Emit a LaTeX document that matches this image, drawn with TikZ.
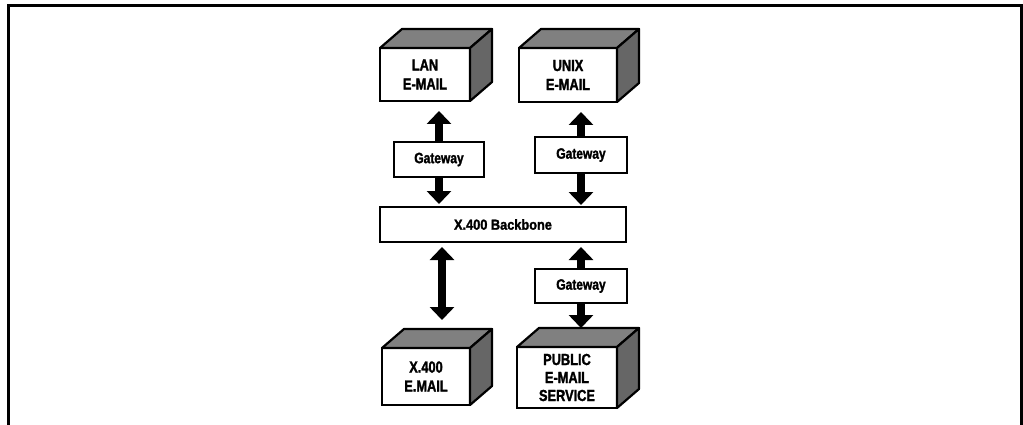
\documentclass[tikz,border=0pt]{standalone}
\usepackage{fontspec}
\usetikzlibrary{arrows.meta,calc}
\newfontfamily\boxfont{Liberation Sans}[FakeStretch=0.8,FakeBold=1.6]
\newfontfamily\widefont{Liberation Sans}[FakeStretch=0.88,FakeBold=1.6]
\tikzset{
  front/.style={draw, line width=2.6pt, fill=white, inner sep=0pt, outer sep=0pt,
    align=center, font=\boxfont\bfseries\fontsize{16}{19}\selectfont},
  topface/.style={draw, line width=2.2pt, line join=round, fill=black!50},
  sideface/.style={draw, line width=2.2pt, line join=round, fill=black!60},
  gate/.style={draw, line width=2pt, fill=white, inner sep=0pt, outer sep=0pt,
    minimum width=90pt, minimum height=35pt, font=\boxfont\bfseries\fontsize{15}{17}\selectfont},
  bone/.style={draw, line width=2pt, fill=white, inner sep=0pt, outer sep=0pt,
    minimum width=246pt, minimum height=35pt, font=\widefont\bfseries\fontsize{14.5}{17}\selectfont},
  blk/.style={line width=8pt, -{Triangle[width=24pt,length=13pt]}},
  blkboth/.style={line width=8pt, {Triangle[width=24pt,length=13pt]}-{Triangle[width=24pt,length=13pt]}},
  frame/.style={line width=3pt}
}
\begin{document}
\begin{tikzpicture}[x=1pt,y=-1pt]
\useasboundingbox (0,0) rectangle (1023,425);
% open frame
\draw[frame] (8,425) -- (8,6) -- (1021,6) -- (1021,425);

% mail systems (front faces)
\node[front, minimum width=90pt, minimum height=53pt] (lan) at (425,74.5) {LAN\\E-MAIL};
\node[front, minimum width=98pt, minimum height=54pt] (unix) at (568,75) {UNIX\\E-MAIL};
\node[front, minimum width=88pt, minimum height=57pt] (xfour) at (426,376.5) {X.400\\E.MAIL};
\node[front, minimum width=100pt, minimum height=61pt,
      font=\boxfont\bfseries\fontsize{16}{18}\selectfont] (pub) at (567,377.5) {PUBLIC\\E-MAIL\\SERVICE};

% top and side faces of the boxes
\foreach \n in {lan,unix,xfour,pub}{
  \filldraw[topface] (\n.north west) -- ($(\n.north west)+(22,-19)$)
    -- ($(\n.north east)+(22,-19)$) -- (\n.north east) -- cycle;
  \filldraw[sideface] (\n.north east) -- ($(\n.north east)+(22,-19)$)
    -- ($(\n.south east)+(22,-19)$) -- (\n.south east) -- cycle;
}

% gateways and backbone
\node[gate] (gw1) at (439,159.5) {Gateway};
\node[gate, minimum width=92pt, minimum height=36pt] (gw2) at (581,155) {Gateway};
\node[gate, minimum width=92pt, minimum height=34pt] (gw3) at (581,286) {Gateway};
\node[bone] (bb) at (503,224.5) {X.400 Backbone};

% connections
\draw[blk, shorten >=10pt] (gw1.north) -- (gw1.north |- lan.south);
\draw[blk, shorten >=3pt] (gw1.south) -- (gw1.south |- bb.north);
\draw[blk, shorten >=10pt] (gw2.north) -- (gw2.north |- unix.south);
\draw[blk, shorten >=2pt] (gw2.south) -- (gw2.south |- bb.north);
\draw[blkboth, shorten <=5pt, shorten >=28pt]
  ([xshift=-61pt]bb.south) -- ([xshift=-61pt]bb.south |- xfour.north);
\draw[blk, shorten >=5pt] (gw3.north) -- (gw3.north |- bb.south);
\draw[blk, shorten >=19pt] (gw3.south) -- (gw3.south |- pub.north);
\end{tikzpicture}
\end{document}
